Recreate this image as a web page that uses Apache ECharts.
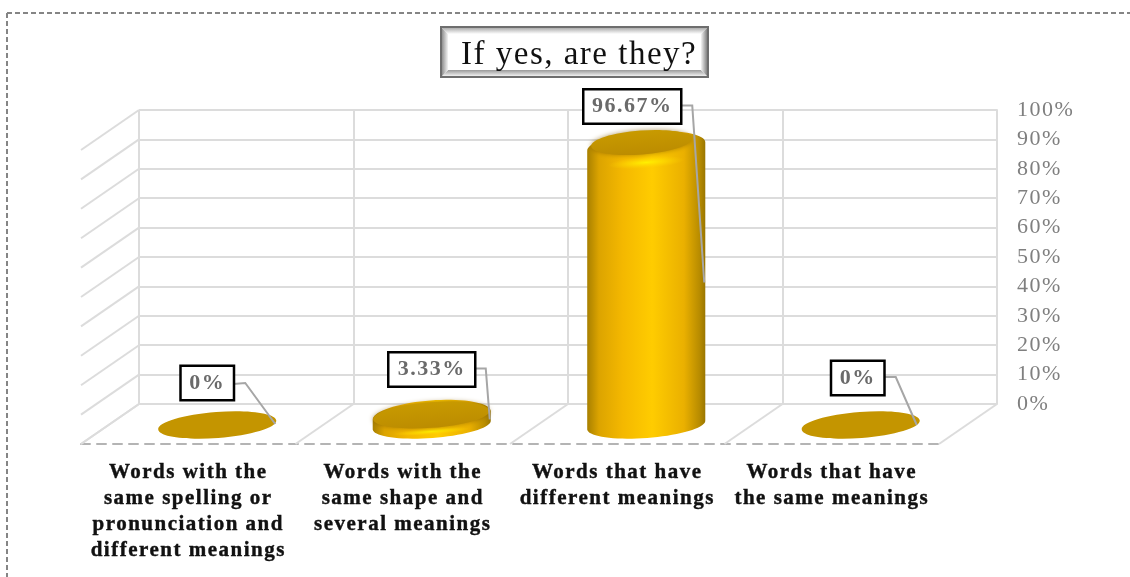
<!DOCTYPE html>
<html>
<head>
<meta charset="utf-8">
<title>If yes, are they?</title>
<script src="https://cdn.jsdelivr.net/npm/echarts@6/dist/echarts.min.js"></script>
<style>
  html, body { margin: 0; padding: 0; background: #fff; }
  #main { width: 1130px; height: 577px; }
</style>
</head>
<body>
<div id="main"></div>
<script>
var categories = [
  'Words with the\nsame spelling or\npronunciation and\ndifferent meanings',
  'Words with the\nsame shape and\nseveral meanings',
  'Words that have\ndifferent meanings',
  'Words that have\nthe same meanings'
];
var values = [0, 3.33, 96.67, 0];
var valueTicks = [0, 10, 20, 30, 40, 50, 60, 70, 80, 90, 100];

// label box centre and leader line, relative to the top of each cylinder
var labelOffsets = [[-10, -42], [0, -46], [-14, -40], [-3, -47]];
var labelPadding = [9, 12, 12, 9];
var leaderOffsets = [
  [[16, -41], [28, -42], [58, -1]],
  [[42, -47], [54, -47], [58, 4]],
  [[34, -41], [46, -41], [58, 136]],
  [[24, -48], [35, -48], [56, 0]]
];

var serif = '"Liberation Serif", "Times New Roman", serif';
var wallColor = '#dcdcdc';
var depth = [-58, 40];   // back wall to front of the floor
var tilt = 0.075;

var myChart = echarts.init(document.getElementById('main'));

function ellipsePoint(c, rx, ry, t) {
  var x = rx * Math.cos(t), y = ry * Math.sin(t);
  return [
    c[0] + x * Math.cos(tilt) + y * Math.sin(tilt),
    c[1] - x * Math.sin(tilt) + y * Math.cos(tilt)
  ];
}

function tiltedEllipse(c, rx, ry, style) {
  return {
    type: 'ellipse',
    x: c[0], y: c[1], rotation: tilt,
    shape: { cx: 0, cy: 0, rx: rx, ry: ry },
    style: style
  };
}

function renderCylinder(params, api) {
  var i = api.value(0), v = api.value(1);
  var floor = api.coord([i, 0]);
  var raw = api.coord([i, v]);
  var rx = api.size([1, 0])[0] * 0.276;
  var ry = 13;
  var base = [floor[0] + depth[0] / 2, floor[1] + depth[1] / 2 + 1];
  var h = (floor[1] - raw[1]) * 0.98;
  var top = [base[0], base[1] - h];
  // the rounded shoulder only shows on the taller cylinders
  var bevel = Math.pow(Math.min(h, 30) / 30, 2);
  var children = [];

  if (h > 0) {
    var pts = [], t;
    for (t = 0; t <= 36; t++) pts.push(ellipsePoint(base, rx, ry, Math.PI * t / 36));
    for (t = 0; t <= 36; t++) pts.push(ellipsePoint(top, rx, ry + 2, Math.PI + Math.PI * t / 36));
    children.push({
      type: 'polygon',
      shape: { points: pts },
      style: {
        fill: {
          type: 'linear', x: 0, y: 0, x2: 1, y2: 0,
          colorStops: [
            { offset: 0, color: '#a88000' },
            { offset: 0.1, color: '#dca400' },
            { offset: 0.3, color: '#f4b800' },
            { offset: 0.55, color: '#ffcc00' },
            { offset: 0.82, color: '#eab000' },
            { offset: 0.95, color: '#b88c00' },
            { offset: 1, color: '#9a7600' }
          ]
        }
      }
    });
    // highlight: a scaled circle, a radial fill follows the shorter side of an ellipse
    var glowR = 3 + 3 * bevel;
    children.push({
      type: 'circle',
      x: top[0], y: top[1] + 16,
      rotation: tilt,
      scaleX: rx * 0.65 / glowR,
      shape: { cx: 0, cy: 0, r: glowR },
      style: {
        fill: {
          type: 'radial', x: 0.5, y: 0.5, r: 0.5,
          colorStops: [
            { offset: 0, color: 'rgba(255,240,0,1)' },
            { offset: 0.45, color: 'rgba(255,225,0,0.6)' },
            { offset: 1, color: 'rgba(255,210,0,0)' }
          ]
        }
      }
    });
  }

  // flat cap
  children.push(tiltedEllipse(
    [top[0] - 5 * bevel, top[1] - 4 * bevel],
    rx - 9 * bevel,
    ry - bevel,
    h > 0 ? {
      fill: {
        type: 'linear', x: 0, y: 0, x2: 0, y2: 1,
        colorStops: [
          { offset: 0, color: '#c89a00' },
          { offset: 1, color: '#bc8c00' }
        ]
      },
      shadowBlur: 5, shadowColor: 'rgba(130,90,0,0.6)'
    } : { fill: '#c49500' }
  ));

  var leader = leaderOffsets[i].map(function (p) {
    return [top[0] + p[0], top[1] + p[1]];
  });
  children.push({
    type: 'polyline',
    shape: { points: leader },
    style: { fill: null, stroke: '#a6a6a6', lineWidth: 2 }
  });

  children.push({
    type: 'text',
    x: top[0] + labelOffsets[i][0],
    y: top[1] + labelOffsets[i][1],
    style: {
      text: v + '%',
      font: 'bold 22px ' + serif,
      fill: '#6a6a6a',
      align: 'center',
      verticalAlign: 'middle',
      backgroundColor: '#fff',
      borderColor: '#000',
      borderWidth: 2.5,
      padding: [5, labelPadding[i], 5, labelPadding[i]]
    }
  });

  return { type: 'group', children: children };
}

function renderLeftWall(params, api) {
  var band = api.size([1, 0])[0];
  var p = api.coord([0, api.value(0)]);
  var x = p[0] - band / 2;
  return {
    type: 'line',
    shape: { x1: x, y1: p[1], x2: x + depth[0], y2: p[1] + depth[1] },
    style: { stroke: wallColor, lineWidth: 2 }
  };
}

function renderFloor(params, api) {
  var band = api.size([1, 0])[0];
  var p = api.coord([0, 0]);
  var x = p[0] + (api.value(0) - 0.5) * band;
  return {
    type: 'line',
    shape: { x1: x, y1: p[1], x2: x + depth[0], y2: p[1] + depth[1] },
    style: { stroke: wallColor, lineWidth: 2 }
  };
}

var titleBox = { x: 441, y: 27, w: 267, h: 50, b: 7 };
function bevelSide(points, color0, color1, x2, y2) {
  return {
    type: 'polygon',
    shape: { points: points },
    style: {
      fill: {
        type: 'linear', x: 0, y: 0, x2: x2, y2: y2,
        colorStops: [{ offset: 0, color: color0 }, { offset: 1, color: color1 }]
      }
    }
  };
}
var bx0 = titleBox.x, by0 = titleBox.y, bx1 = bx0 + titleBox.w, by1 = by0 + titleBox.h, bb = titleBox.b;

var option = {
  animation: false,
  backgroundColor: '#fff',
  title: {
    text: 'If yes, are they?',
    left: 461,
    top: 39,
    padding: 0,
    textStyle: { fontFamily: serif, fontSize: 33, fontWeight: 'normal', color: '#111' }
  },
  graphic: [
    { type: 'line', shape: { x1: 7, y1: 13, x2: 1130, y2: 13 },
      style: { stroke: '#858585', lineWidth: 2, lineDash: [5, 3] } },
    { type: 'line', shape: { x1: 7, y1: 13, x2: 7, y2: 577 },
      style: { stroke: '#858585', lineWidth: 2, lineDash: [5, 3] } },
    { type: 'rect', shape: { x: bx0, y: by0, width: titleBox.w, height: titleBox.h },
      style: { fill: '#fff', stroke: '#6e6e6e', lineWidth: 2 } },
    bevelSide([[bx0, by0], [bx1, by0], [bx1 - bb, by0 + bb], [bx0 + bb, by0 + bb]], '#a0a0a0', '#ffffff', 0, 1),
    bevelSide([[bx0, by1], [bx1, by1], [bx1 - bb, by1 - bb], [bx0 + bb, by1 - bb]], '#999999', '#ffffff', 0, 1),
    bevelSide([[bx0, by0], [bx0 + bb, by0 + bb], [bx0 + bb, by1 - bb], [bx0, by1]], '#808080', '#f4f4f4', 1, 0),
    bevelSide([[bx1, by0], [bx1 - bb, by0 + bb], [bx1 - bb, by1 - bb], [bx1, by1]], '#f4f4f4', '#707070', 1, 0),
    { type: 'rect', shape: { x: bx0, y: by0, width: titleBox.w, height: titleBox.h },
      style: { fill: null, stroke: '#6e6e6e', lineWidth: 2 } }
  ],
  grid: [
    { left: 139, right: 133, top: 110, bottom: 173 },
    { left: 81, right: 191, top: 150, bottom: 133 }
  ],
  xAxis: [
    {
      type: 'category',
      gridIndex: 0,
      data: categories,
      axisLine: { show: false },
      axisTick: { show: false },
      axisLabel: { show: false },
      splitLine: { show: true, interval: 0, lineStyle: { color: wallColor, width: 2 } }
    },
    {
      type: 'category',
      gridIndex: 1,
      data: categories,
      axisLine: { lineStyle: { color: '#b4b4b4', width: 2, type: [9, 7] } },
      axisTick: { show: false },
      axisLabel: {
        interval: 0,
        margin: 16,
        lineHeight: 26,
        fontFamily: serif,
        fontWeight: 'bold',
        fontSize: 21,
        color: '#111',
        textBorderColor: '#111',
        textBorderWidth: 0.4
      }
    }
  ],
  yAxis: [
    {
      type: 'value',
      gridIndex: 0,
      position: 'right',
      min: 0,
      max: 100,
      interval: 10,
      axisLine: { show: true, lineStyle: { color: wallColor, width: 2 } },
      axisTick: { show: false },
      axisLabel: {
        formatter: '{value}%',
        margin: 20,
        fontFamily: serif,
        fontSize: 22,
        color: '#7f7f7f'
      },
      splitLine: { lineStyle: { color: wallColor, width: 2 } }
    },
    {
      type: 'value',
      gridIndex: 1,
      min: 0,
      max: 100,
      show: false
    }
  ],
  series: [
    {
      type: 'custom',
      coordinateSystem: 'cartesian2d',
      xAxisIndex: 0,
      yAxisIndex: 0,
      silent: true,
      renderItem: renderLeftWall,
      data: valueTicks.map(function (t) { return [t]; }),
      encode: { y: 0 }
    },
    {
      type: 'custom',
      coordinateSystem: 'cartesian2d',
      xAxisIndex: 0,
      yAxisIndex: 0,
      silent: true,
      renderItem: renderFloor,
      data: [0, 1, 2, 3, 4].map(function (b) { return [b]; }),
      encode: { x: 0 }
    },
    {
      type: 'custom',
      coordinateSystem: 'cartesian2d',
      xAxisIndex: 0,
      yAxisIndex: 0,
      silent: true,
      z: 5,
      renderItem: renderCylinder,
      data: values.map(function (v, i) { return [i, v]; }),
      encode: { x: 0, y: 1 }
    }
  ]
};

myChart.setOption(option);

// the reference text is spaced out, ECharts has no option for this,
// the canvas only exists after the first draw
document.querySelector('#main canvas').getContext('2d').letterSpacing = '1.5px';
myChart.setOption(option, true);
</script>
</body>
</html>
